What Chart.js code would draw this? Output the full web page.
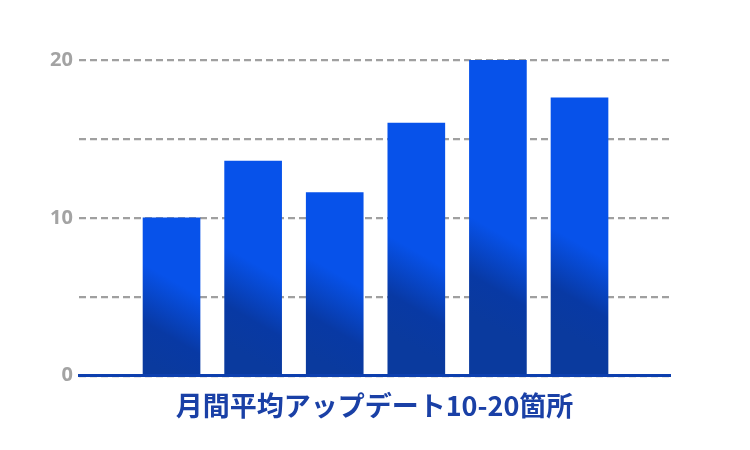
<!DOCTYPE html>
<html>
<head>
<meta charset="utf-8">
<script src="https://cdn.jsdelivr.net/npm/chart.js@4/dist/chart.umd.min.js"></script>
<style>
  html, body { margin: 0; padding: 0; background: #ffffff; }
  #wrap { width: 750px; height: 450px; }
</style>
</head>
<body>
<div id="wrap"><canvas id="chart-updates"></canvas></div>
<script>
// Barras de actualizaciones mensuales

const barNames = ['1', '2', '3', '4', '5', '6'];
const barPositions = [0, 1, 2, 3, 4, 5];
const updateCounts = [10, 13.6, 11.6, 16, 20, 17.6];
const yTickLabels = [0, 10, 20];
const titleText = '月間平均アップデート10-20箇所';

const brightBlue = '#0752ea';
const darkBlue = '#0a3a9e';
const axisBlue = '#0d3fae';

function barGradient(c) {
  const chart = c.chart;
  const area = chart.chartArea;
  if (!area || c.type !== 'data') return brightBlue;
  const i = c.dataIndex;
  const cx = chart.scales.x.getPixelForValue(barPositions[i]);
  const top = chart.scales.y.getPixelForValue(updateCounts[i]);
  const base = chart.scales.y.getPixelForValue(0);
  const my = top + (base - top) * 0.7;
  const ux = 0.5, uy = -0.866, r = 42;
  const g = chart.ctx.createLinearGradient(cx - ux * r, my - uy * r, cx + ux * r, my + uy * r);
  g.addColorStop(0, darkBlue);
  g.addColorStop(0.4, '#0839a4');
  g.addColorStop(1, brightBlue);
  return g;
}

const ctx = document.getElementById('chart-updates');

new Chart(ctx, {
  type: 'bar',
  data: {
    labels: barNames,
    datasets: [{
      label: 'Updates',
      data: barPositions.map((x, i) => ({ x: x, y: updateCounts[i] })),
      backgroundColor: barGradient,
      borderWidth: 0,
      barThickness: 57
    }]
  },
  options: {
    responsive: true,
    maintainAspectRatio: false,
    animation: false,
    layout: { padding: { left: 0, right: 80, top: 60, bottom: 28 } },
    plugins: {
      legend: { display: false },
      tooltip: { enabled: false }
    },
    scales: {
      x: {
        type: 'linear',
        offset: false,
        min: -1.134,
        max: 6.109,
        grid: { display: false, drawTicks: false, offset: false },
        border: { display: true, color: axisBlue, width: 3, z: 1 },
        ticks: { display: false },
        title: {
          display: true,
          text: titleText,
          color: '#1a40a6',
          font: { family: '"Noto Sans CJK JP", "Noto Sans", sans-serif', size: 27, weight: 'bold' },
          padding: { top: 14, bottom: 0 }
        }
      },
      y: {
        min: 0,
        max: 20,
        afterFit: s => { s.width = 79; },
        border: { display: false, dash: [7, 4] },
        grid: { color: '#a0a0a0', lineWidth: 2.2, drawTicks: false },
        ticks: {
          stepSize: 5,
          padding: 6,
          color: '#a3a3a3',
          font: { family: '"Noto Sans", sans-serif', size: 20, weight: 'bold' },
          callback: v => yTickLabels.includes(v) ? String(v) : ''
        }
      }
    }
  }
});
</script>
</body>
</html>
